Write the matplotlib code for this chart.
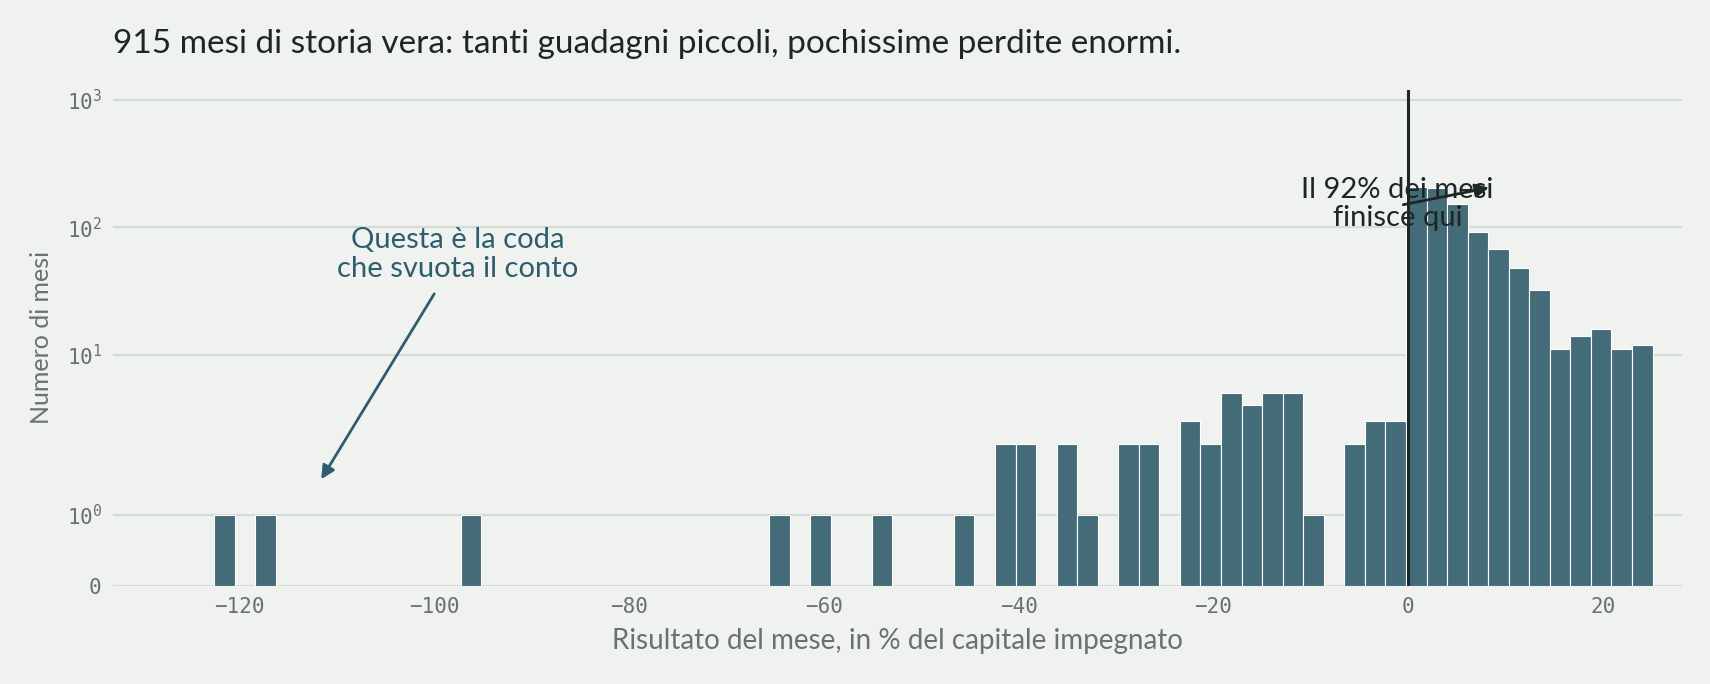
import numpy as np
import matplotlib
matplotlib.use("Agg")
import matplotlib.pyplot as plt

# histogram of monthly results (% of committed capital), 70 equal bins
bin_lo = -122.6
bin_hi = 25.1
n_bins = 70
# non-empty bins: index -> count
bin_idx = [0, 2, 12, 27, 29, 32, 36, 38, 39, 41, 42, 44, 45,
           47, 48, 49, 50, 51, 52, 53, 55, 56, 57,
           58, 59, 60, 61, 62, 63, 64, 65, 66, 67, 68, 69]
counts = [1, 1, 1, 1, 1, 1, 1, 2, 2, 2, 1, 2, 2,
          3, 2, 5, 4, 5, 5, 1, 2, 3, 3,
          205, 204, 153, 91, 67, 48, 32, 11, 14, 16, 11, 12]

title = "915 mesi di storia vera: tanti guadagni piccoli, pochissime perdite enormi."
xlabel = "Risultato del mese, in % del capitale impegnato"
ylabel = "Numero di mesi"
note_tail = "Questa è la coda\nche svuota il conto"
note_body = "Il 92% dei mesi\nfinisce qui"

BG = "#eff2ef"
BAR = "#446b78"
GRID = "#d5dbd8"
DARK = "#1d2725"
GREY = "#6a716f"
TEAL = "#2e5d6d"
SANS = ["Lato", "DejaVu Sans"]
MONO = ["DejaVu Sans Mono"]

plt.rcParams["mathtext.default"] = "regular"

width = (bin_hi - bin_lo) / n_bins
lefts = [bin_lo + i * width for i in bin_idx]

fig = plt.figure(figsize=(17.1, 6.84), dpi=100, facecolor=BG)
ax = fig.add_axes([0.066, 0.144, 0.9175, 0.7237], facecolor=BG)

ax.bar(lefts, counts, width=width, align="edge", color=BAR,
       edgecolor="white", linewidth=0.8, zorder=2)

ax.set_yscale("symlog", linthresh=2)
ax.set_ylim(0, 1180)
ax.set_xlim(-133.0, 28.1)
ax.set_yticks([0, 1, 10, 100, 1000])
ax.set_xticks([-120, -100, -80, -60, -40, -20, 0, 20])
ax.yaxis.set_minor_locator(matplotlib.ticker.NullLocator())
ax.grid(axis="y", color=GRID, linewidth=1.5, zorder=0)
ax.grid(axis="x", visible=False)
for s in ax.spines.values():
    s.set_visible(False)
ax.tick_params(length=0, pad=8, labelsize=15, labelcolor=GREY)
for lab in ax.get_xticklabels() + ax.get_yticklabels():
    lab.set_family(MONO)

ax.axvline(0, color=DARK, linewidth=2.2, zorder=3)

ax.set_xlabel(xlabel, fontsize=20, color=GREY, family=SANS, labelpad=8)
ax.set_ylabel(ylabel, fontsize=18, color=GREY, family=SANS, labelpad=10)

fig.text(0.066, 1 - 43.6 / 684, title, fontsize=24, color=DARK,
         family=SANS, ha="left", va="center")

ax.annotate("", xy=(-111.6, 1.5), xytext=(-100, 30),
            arrowprops=dict(arrowstyle="-|>", color=TEAL, lw=2,
                            mutation_scale=20, shrinkA=0, shrinkB=0), zorder=4)
ax.text(-97.6, 61, note_tail, fontsize=21, color=TEAL, family=SANS,
        ha="center", va="center", linespacing=1.1, zorder=4)

ax.annotate("", xy=(8.3, 204), xytext=(-0.5, 150),
            arrowprops=dict(arrowstyle="-|>", color=DARK, lw=2,
                            mutation_scale=20, shrinkA=0, shrinkB=0), zorder=5)
ax.text(-1.1, 152, note_body, fontsize=21, color=DARK, family=SANS,
        ha="center", va="center", linespacing=1.1, zorder=5)

fig.savefig("out.png", dpi=100, facecolor=BG)
